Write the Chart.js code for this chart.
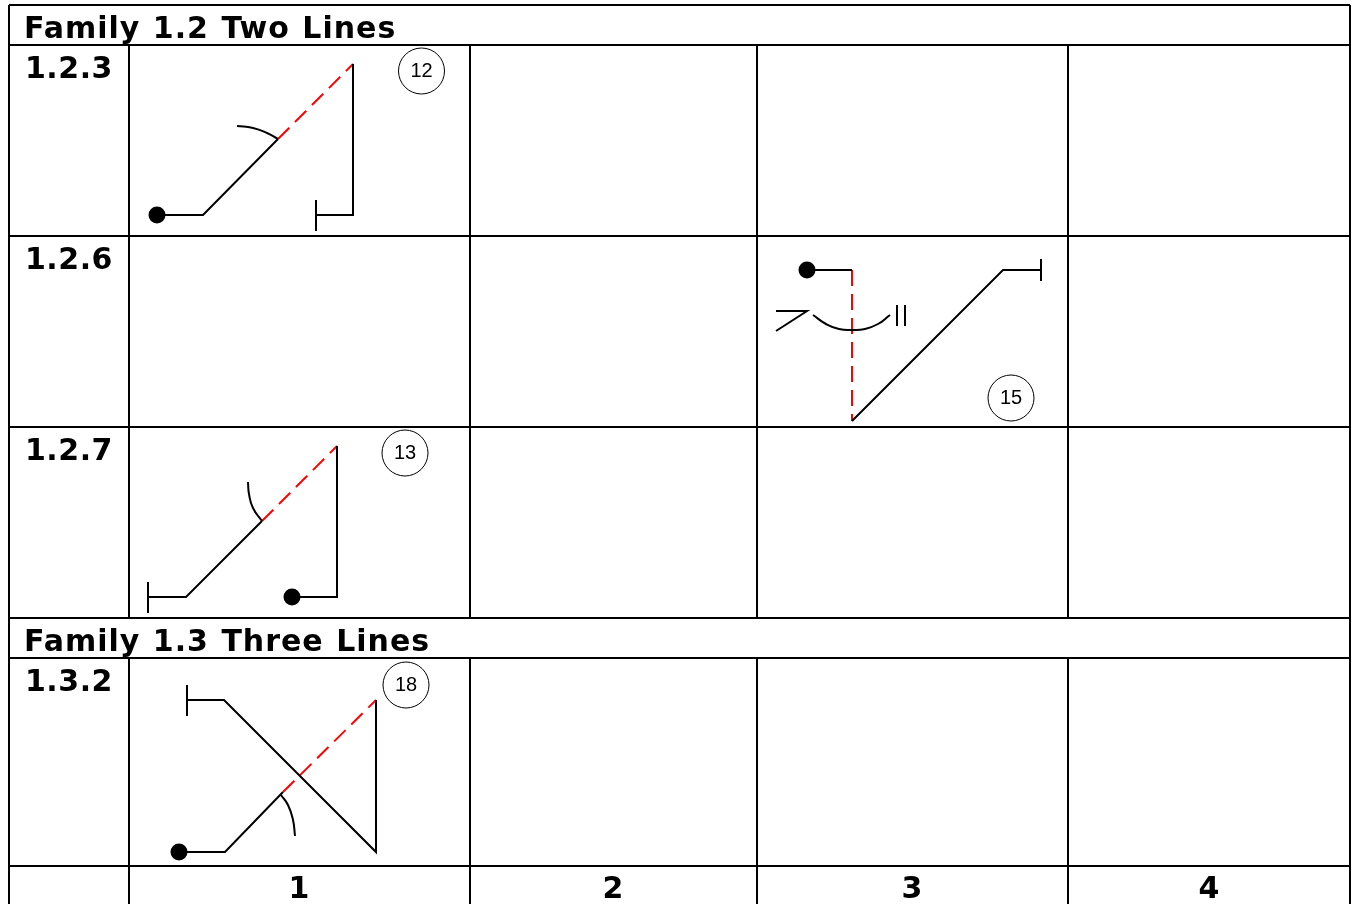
<!DOCTYPE html>
<html>
<head>
<meta charset="utf-8">
<title>Family 1.2 / 1.3</title>
<style>
  html, body { margin: 0; padding: 0; background: #fff; overflow: hidden; }
  canvas { display: block; }
</style>
<script src="https://cdn.jsdelivr.net/npm/chart.js@4/dist/chart.umd.min.js"></script>
</head>
<body>
<canvas id="chart" width="1357" height="904"></canvas>
<script>
// Table text
const familyLabels = ["Family 1.2 Two Lines", "Family 1.3 Three Lines"];
const familyAnchors = [[24, 38], [24, 651]];
const rowLabels = ["1.2.3", "1.2.6", "1.2.7", "1.3.2"];
const rowAnchors = [[25, 78], [25, 269], [25, 460], [25, 691]];
const columnLabels = ["1", "2", "3", "4"];
const columnAnchors = [[299, 898], [613, 898], [912, 898], [1209, 898]];

// Table rules
const rules = [
  [[9, 5], [1350, 5]],
  [[9, 45], [1350, 45]],
  [[9, 236], [1350, 236]],
  [[9, 427], [1350, 427]],
  [[9, 618], [1350, 618]],
  [[9, 658], [1350, 658]],
  [[9, 866], [1350, 866]],
  [[9, 5], [9, 904]],
  [[1350, 5], [1350, 904]],
  [[129, 45], [129, 618]],
  [[129, 658], [129, 904]],
  [[470, 45], [470, 618]],
  [[470, 658], [470, 904]],
  [[757, 45], [757, 618]],
  [[757, 658], [757, 904]],
  [[1068, 45], [1068, 618]],
  [[1068, 658], [1068, 904]]
];

// Black strokes of each figure
const strokes = [
  [[157, 215], [203, 215], [278, 139]],
  [[353, 64], [353, 215], [316, 215]],
  [[316, 200], [316, 231]],
  [[807, 270], [852, 270]],
  [[852, 421], [1003, 270], [1041, 270]],
  [[1041, 259], [1041, 281]],
  [[776, 311], [807, 311], [776, 331]],
  [[897, 305], [897, 326]],
  [[905, 305], [905, 326]],
  [[292, 597], [337, 597], [337, 446]],
  [[262, 521], [186, 597], [148, 597]],
  [[148, 582], [148, 613]],
  [[179, 852], [225, 852], [283, 792]],
  [[376, 700], [376, 852], [224, 700], [187, 700]],
  [[187, 685], [187, 716]]
];

// Curved angle marks
const arcs = [
  [[237, 126], [253, 128], [267, 133], [278, 139]],
  [[813, 315], [826, 324], [839, 329], [852, 330], [865, 329], [878, 324], [890, 315]],
  [[248, 482], [249, 494], [253, 508], [262, 521]],
  [[281, 795], [288, 805], [293, 820], [295, 836]]
];

// Red dashed strokes
const dashed = [
  [[278, 139], [353, 64]],
  [[852, 270], [852, 421]],
  [[262, 521], [337, 446]],
  [[283, 792], [376, 700]]
];

const startDots = [[157, 215], [807, 270], [292, 597], [179, 852]];
const badgeLabels = ["12", "15", "13", "18"];
const badgeCentres = [[421.5, 71], [1011, 398], [405, 453], [406, 685]];

function toPoints(list) {
  return list.map(p => ({ x: p[0], y: p[1] }));
}

function strokeSet(list, color, width, dash, tension) {
  return {
    data: toPoints(list),
    showLine: true,
    borderColor: color,
    borderWidth: width,
    borderDash: dash || [],
    tension: tension || 0,
    pointRadius: 0,
    fill: false
  };
}

const datasets = [];
rules.forEach(r => datasets.push(strokeSet(r, "#000", 2)));
strokes.forEach(s => datasets.push(strokeSet(s, "#000", 2)));
arcs.forEach(a => datasets.push(strokeSet(a, "#000", 2, null, 0.5)));
dashed.forEach(d => datasets.push(strokeSet(d, "#f00", 2, [16, 8])));

datasets.push({
  data: toPoints(startDots),
  showLine: false,
  pointRadius: 8.5,
  pointBackgroundColor: "#000",
  pointBorderWidth: 0
});
datasets.push({
  data: toPoints(badgeCentres),
  showLine: false,
  pointRadius: 23,
  pointBackgroundColor: "#fff",
  pointBorderColor: "#000",
  pointBorderWidth: 1
});

// Writes the table text at scale positions, after the rules so descenders sit on top
const tableText = {
  id: "tableText",
  afterDatasetsDraw(c) {
    const ctx = c.ctx;
    const put = (labels, anchors, font, align, spacing, wordGap) => {
      ctx.font = font;
      ctx.textAlign = align;
      ctx.letterSpacing = spacing || "0px";
      ctx.wordSpacing = wordGap || "0px";
      labels.forEach((t, i) => {
        ctx.fillText(t, c.scales.x.getPixelForValue(anchors[i][0]), c.scales.y.getPixelForValue(anchors[i][1]));
      });
    };
    ctx.save();
    ctx.fillStyle = "#000";
    ctx.textBaseline = "alphabetic";
    put(familyLabels, familyAnchors, "bold 30px 'DejaVu Sans'", "left", "1px", "1px");
    put(rowLabels, rowAnchors, "bold 30px 'DejaVu Sans'", "left", "0.5px");
    put(columnLabels, columnAnchors, "bold 30px 'DejaVu Sans'", "center");
    ctx.textBaseline = "middle";
    put(badgeLabels, badgeCentres, "20px 'Liberation Sans'", "center");
    ctx.restore();
  }
};

new Chart(document.getElementById("chart").getContext("2d"), {
  type: "scatter",
  data: { datasets: datasets },
  plugins: [tableText],
  options: {
    responsive: false,
    animation: false,
    clip: false,
    layout: { padding: 0, autoPadding: false },
    plugins: { legend: { display: false }, tooltip: { enabled: false } },
    scales: {
      x: { type: "linear", min: 0, max: 1357, display: false },
      y: { type: "linear", min: 0, max: 904, reverse: true, display: false }
    }
  }
});
</script>
</body>
</html>
